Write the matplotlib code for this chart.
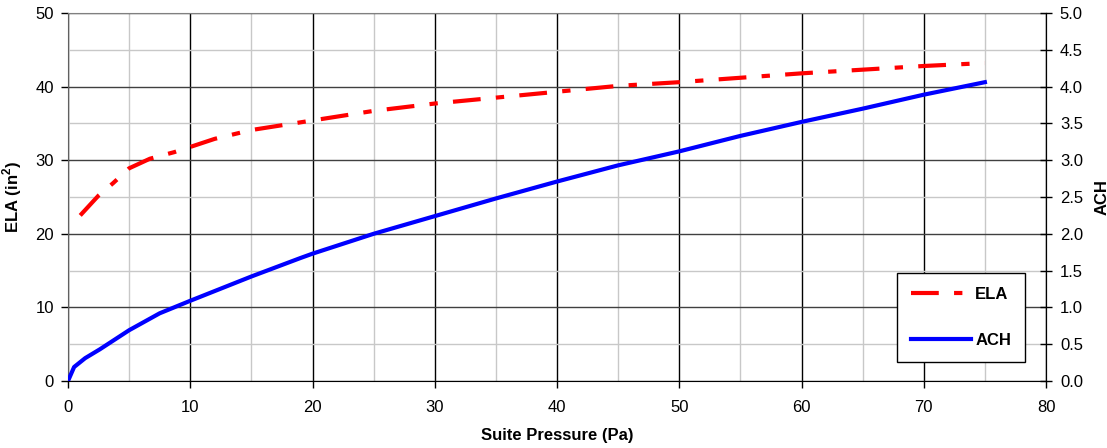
import matplotlib
matplotlib.use("Agg")
import matplotlib.pyplot as plt
from matplotlib.ticker import MultipleLocator, FormatStrFormatter

plt.rcParams['font.family'] = ['Liberation Sans', 'DejaVu Sans']
plt.rcParams['font.size'] = 12
plt.rcParams['lines.scale_dashes'] = False
plt.rcParams['mathtext.fontset'] = 'custom'
plt.rcParams['mathtext.rm'] = 'Liberation Sans'
plt.rcParams['mathtext.bf'] = 'Liberation Sans:bold'

# ELA (left axis)
ela_pressure = [1, 2.5, 3.7, 5, 6.7, 8.7, 10, 12, 15, 20, 25, 30, 35, 40, 45, 50, 55, 60, 65, 70, 75]
ela_values = [22.5, 25.2, 26.9, 28.9, 30.2, 31.1, 31.8, 32.9, 34.1, 35.4, 36.7, 37.7, 38.5, 39.3,
              40.1, 40.6, 41.2, 41.8, 42.3, 42.8, 43.2]

# ACH (right axis)
ach_pressure = [0, 0.5, 1.4, 2.6, 5, 7.5, 10, 15, 19, 20, 25, 30, 35, 40, 45, 50, 55, 60, 65, 70, 75]
ach_values = [0.0, 0.19, 0.31, 0.43, 0.69, 0.92, 1.09, 1.42, 1.67, 1.73, 2.0, 2.24, 2.48, 2.71,
              2.93, 3.12, 3.33, 3.52, 3.70, 3.89, 4.06]

fig = plt.figure(figsize=(11.07, 4.48), dpi=100)
ax = fig.add_axes([68 / 1107, 67 / 448, 978 / 1107, 368 / 448])
ax2 = ax.twinx()

ax.set_xlim(0, 80)
ax.set_ylim(0, 50)
ax2.set_ylim(0, 5)

ax.xaxis.set_major_locator(MultipleLocator(10))
ax.xaxis.set_minor_locator(MultipleLocator(5))
ax.yaxis.set_major_locator(MultipleLocator(10))
ax.yaxis.set_minor_locator(MultipleLocator(5))
ax2.yaxis.set_major_locator(MultipleLocator(0.5))
ax2.yaxis.set_major_formatter(FormatStrFormatter('%.1f'))

ax.grid(True, which='minor', color='#c8c8c8', linewidth=1)
ax.grid(True, which='major', axis='x', color='black', linewidth=1)
ax.grid(True, which='major', axis='y', color='#404040', linewidth=1)
ax.set_axisbelow(True)

ax.tick_params(which='minor', length=0)
ax.tick_params(axis='x', which='major', length=5, width=1, pad=9, labelsize=12)
ax.tick_params(axis='y', which='major', length=5, width=1, pad=5, labelsize=12)
ax2.tick_params(which='major', length=8, width=1, direction='inout', pad=6, labelsize=12)

ax.spines['top'].set_color('#808080')
ax.spines['left'].set_color('#606060')
for s in ax2.spines.values():
    s.set_visible(False)
ax2.spines['right'].set_visible(True)
ax2.spines['right'].set_color('black')

l1, = ax.plot(ela_pressure, ela_values, color='#ff0000', linewidth=3,
              dashes=(20, 11, 6, 11), dash_capstyle='butt', label='ELA')
l2, = ax2.plot(ach_pressure, ach_values, color='#0000ff', linewidth=3, label='ACH')

ax.set_xlabel('Suite Pressure (Pa)', fontweight='bold', fontsize=12, labelpad=9)
ax.set_ylabel(r'ELA (in$^{\mathbf{2}}$)', fontweight='bold', fontsize=12, labelpad=8)
ax2.set_ylabel('ACH', fontweight='bold', fontsize=12, labelpad=8)

leg = ax2.legend([l1, l2], ['ELA', 'ACH'], loc='upper left',
                 bbox_to_anchor=((897 - 68) / 978, (381 - 273) / 368),
                 fancybox=False, edgecolor='black', framealpha=1,
                 handlelength=3.6, labelspacing=1.85, borderpad=0.85, borderaxespad=0,
                 handletextpad=0.25, prop={'weight': 'bold', 'size': 12})
leg.get_frame().set_linewidth(1)

fig.savefig('out.png', dpi=100)
